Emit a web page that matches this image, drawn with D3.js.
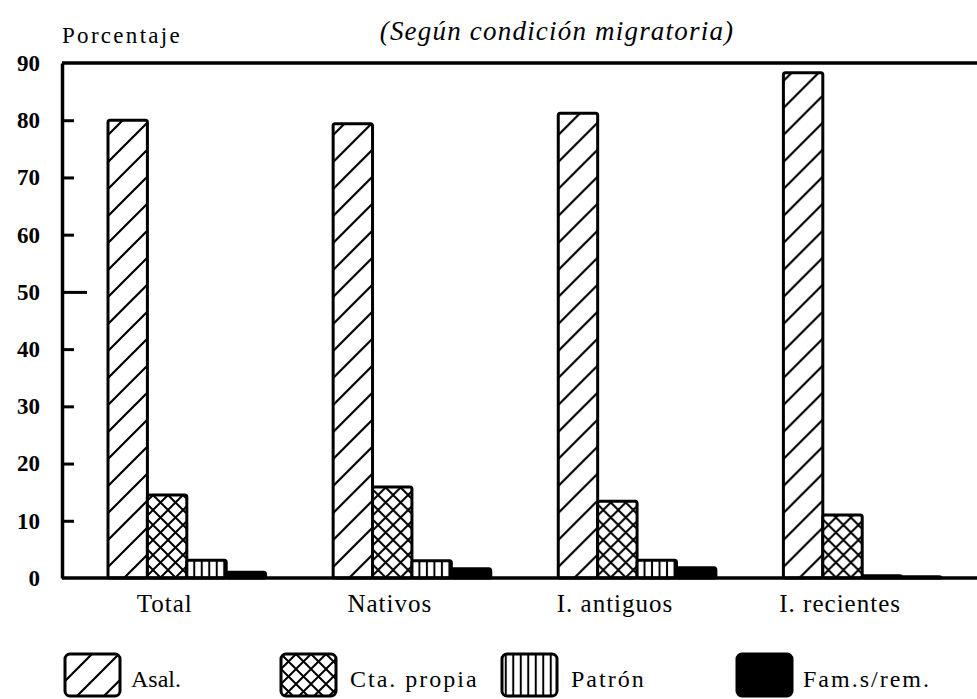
<!DOCTYPE html>
<html>
<head>
<meta charset="utf-8">
<script src="https://cdn.jsdelivr.net/npm/d3@7"></script>
<style>
    body { margin: 0; background: #fff; }
    svg { display: block; }
    svg text { font-family: 'Liberation Serif', 'Times New Roman', 'DejaVu Serif', serif; fill: #000; }
</style>
</head>
<body>
<div id="chart"></div>
<script>
// categories and series (percentages)
var categories = ['Total', 'Nativos', 'I. antiguos', 'I. recientes'];
var seriesNames = ['Asal.', 'Cta. propia', 'Patrón', 'Fam.s/rem.'];
var asal = [80.0, 79.4, 81.2, 88.3];
var ctaPropia = [14.5, 15.9, 13.4, 11.0];
var patron = [3.1, 3.0, 3.1, 0.4];
var famSinRem = [1.0, 1.6, 1.8, 0.2];
var yTicks = [0, 10, 20, 30, 40, 50, 60, 70, 80, 90];

var width = 977;
var height = 699;
var serif = "'Liberation Serif', 'Times New Roman', 'DejaVu Serif', serif";

var seriesValues = [asal, ctaPropia, patron, famSinRem];
var fills = ['url(#diag)', 'url(#cross)', 'url(#vert)', '#000'];

var svg = d3.select('#chart')
    .append('svg')
    .attr('width', width)
    .attr('height', height);

// hatch patterns
var defs = svg.append('defs');

var diag = defs.append('pattern')
    .attr('id', 'diag')
    .attr('patternUnits', 'userSpaceOnUse')
    .attr('width', 27)
    .attr('height', 27);
diag.append('rect').attr('width', 27).attr('height', 27).attr('fill', '#fff');
diag.append('path')
    .attr('d', 'M-7,7 L7,-7 M0,27 L27,0 M20,34 L34,20')
    .attr('stroke', '#000')
    .attr('stroke-width', 2.2);

var cross = defs.append('pattern')
    .attr('id', 'cross')
    .attr('patternUnits', 'userSpaceOnUse')
    .attr('width', 15)
    .attr('height', 15);
cross.append('rect').attr('width', 15).attr('height', 15).attr('fill', '#fff');
cross.append('path')
    .attr('d', 'M-2,2 L2,-2 M0,15 L15,0 M13,17 L17,13 M-2,13 L2,17 M0,0 L15,15 M13,-2 L17,2')
    .attr('stroke', '#000')
    .attr('stroke-width', 2);

var vert = defs.append('pattern')
    .attr('id', 'vert')
    .attr('patternUnits', 'userSpaceOnUse')
    .attr('width', 7.5)
    .attr('height', 10);
vert.append('rect').attr('width', 7.5).attr('height', 10).attr('fill', '#fff');
vert.append('line')
    .attr('x1', 3.75).attr('x2', 3.75)
    .attr('y1', 0).attr('y2', 10)
    .attr('stroke', '#000')
    .attr('stroke-width', 2);

// scales
var y = d3.scaleLinear()
    .domain([0, 90])
    .range([578, 63]);

var x = d3.scaleBand()
    .domain(categories)
    .range([108, 941])
    .paddingInner(0.3)
    .paddingOuter(0);

var xs = d3.scaleBand()
    .domain(seriesNames)
    .range([0, x.bandwidth()])
    .padding(0);

var axisLeftX = 62;

// bars
var groups = svg.selectAll('.group')
    .data(categories)
    .enter()
    .append('g')
    .attr('class', 'group')
    .attr('transform', function(d) {
        return 'translate(' + x(d) + ',0)';
    });

groups.selectAll('rect')
    .data(function(d, i) {
        return seriesNames.map(function(s, j) {
            return { series: s, index: j, value: seriesValues[j][i] };
        });
    })
    .enter()
    .append('rect')
    .attr('x', function(d) { return xs(d.series); })
    .attr('y', function(d) { return y(d.value); })
    .attr('width', xs.bandwidth())
    .attr('height', function(d) { return y(0) - y(d.value); })
    .attr('rx', 2)
    .attr('fill', function(d) { return fills[d.index]; })
    .attr('stroke', '#000')
    .attr('stroke-width', 3);

// frame: top line and baseline running to the right edge
svg.append('line')
    .attr('x1', axisLeftX).attr('x2', width)
    .attr('y1', y(90)).attr('y2', y(90))
    .attr('stroke', '#000')
    .attr('stroke-width', 3.5);

svg.append('line')
    .attr('x1', axisLeftX).attr('x2', width)
    .attr('y1', y(0)).attr('y2', y(0))
    .attr('stroke', '#000')
    .attr('stroke-width', 3.5);

// y axis with inward ticks
var yAxis = svg.append('g')
    .attr('transform', 'translate(' + axisLeftX + ',0)')
    .call(d3.axisLeft(y)
        .tickValues(yTicks)
        .tickSize(-12)
        .tickSizeOuter(0)
        .tickPadding(22));

yAxis.attr('font-family', serif);

yAxis.select('.domain')
    .attr('stroke', '#000')
    .attr('stroke-width', 3.5);

yAxis.selectAll('.tick line')
    .attr('stroke', '#000')
    .attr('stroke-width', 3)
    .attr('x2', function(d) { return d === 50 ? 25 : (d === 0 || d === 90 ? 0 : 12); });

yAxis.selectAll('.tick text')
    .attr('font-size', 23)
    .attr('font-weight', 'bold')
    .attr('fill', '#000');

// category labels
svg.selectAll('.cat')
    .data(categories)
    .enter()
    .append('text')
    .attr('class', 'cat')
    .attr('x', function(d) { return x(d) + x.bandwidth() * 0.36; })
    .attr('y', 612)
    .attr('text-anchor', 'middle')
    .attr('font-size', 25)
    .attr('letter-spacing', 1)
    .text(function(d) { return d; });

// titles
svg.append('text')
    .attr('x', 62)
    .attr('y', 43)
    .attr('font-size', 23)
    .attr('letter-spacing', 2.3)
    .text('Porcentaje');

svg.append('text')
    .attr('x', 557)
    .attr('y', 40)
    .attr('text-anchor', 'middle')
    .attr('font-size', 27)
    .attr('font-style', 'italic')
    .attr('letter-spacing', 1.2)
    .text('(Según condición migratoria)');

// legend
var legendX = [65, 281, 502, 737];
var legend = svg.selectAll('.legend')
    .data(seriesNames)
    .enter()
    .append('g')
    .attr('class', 'legend')
    .attr('transform', function(d, i) {
        return 'translate(' + legendX[i] + ',654)';
    });

legend.append('rect')
    .attr('width', 55)
    .attr('height', 42)
    .attr('rx', 5)
    .attr('fill', function(d, i) { return fills[i]; })
    .attr('stroke', '#000')
    .attr('stroke-width', 3);

legend.append('text')
    .attr('x', function(d, i) { return i === 0 || i === 3 ? 66 : 69; })
    .attr('y', 33)
    .attr('font-size', 24)
    .attr('letter-spacing', function(d, i) { return i === 0 ? 0 : 2; })
    .text(function(d) { return d; });
</script>
</body>
</html>
